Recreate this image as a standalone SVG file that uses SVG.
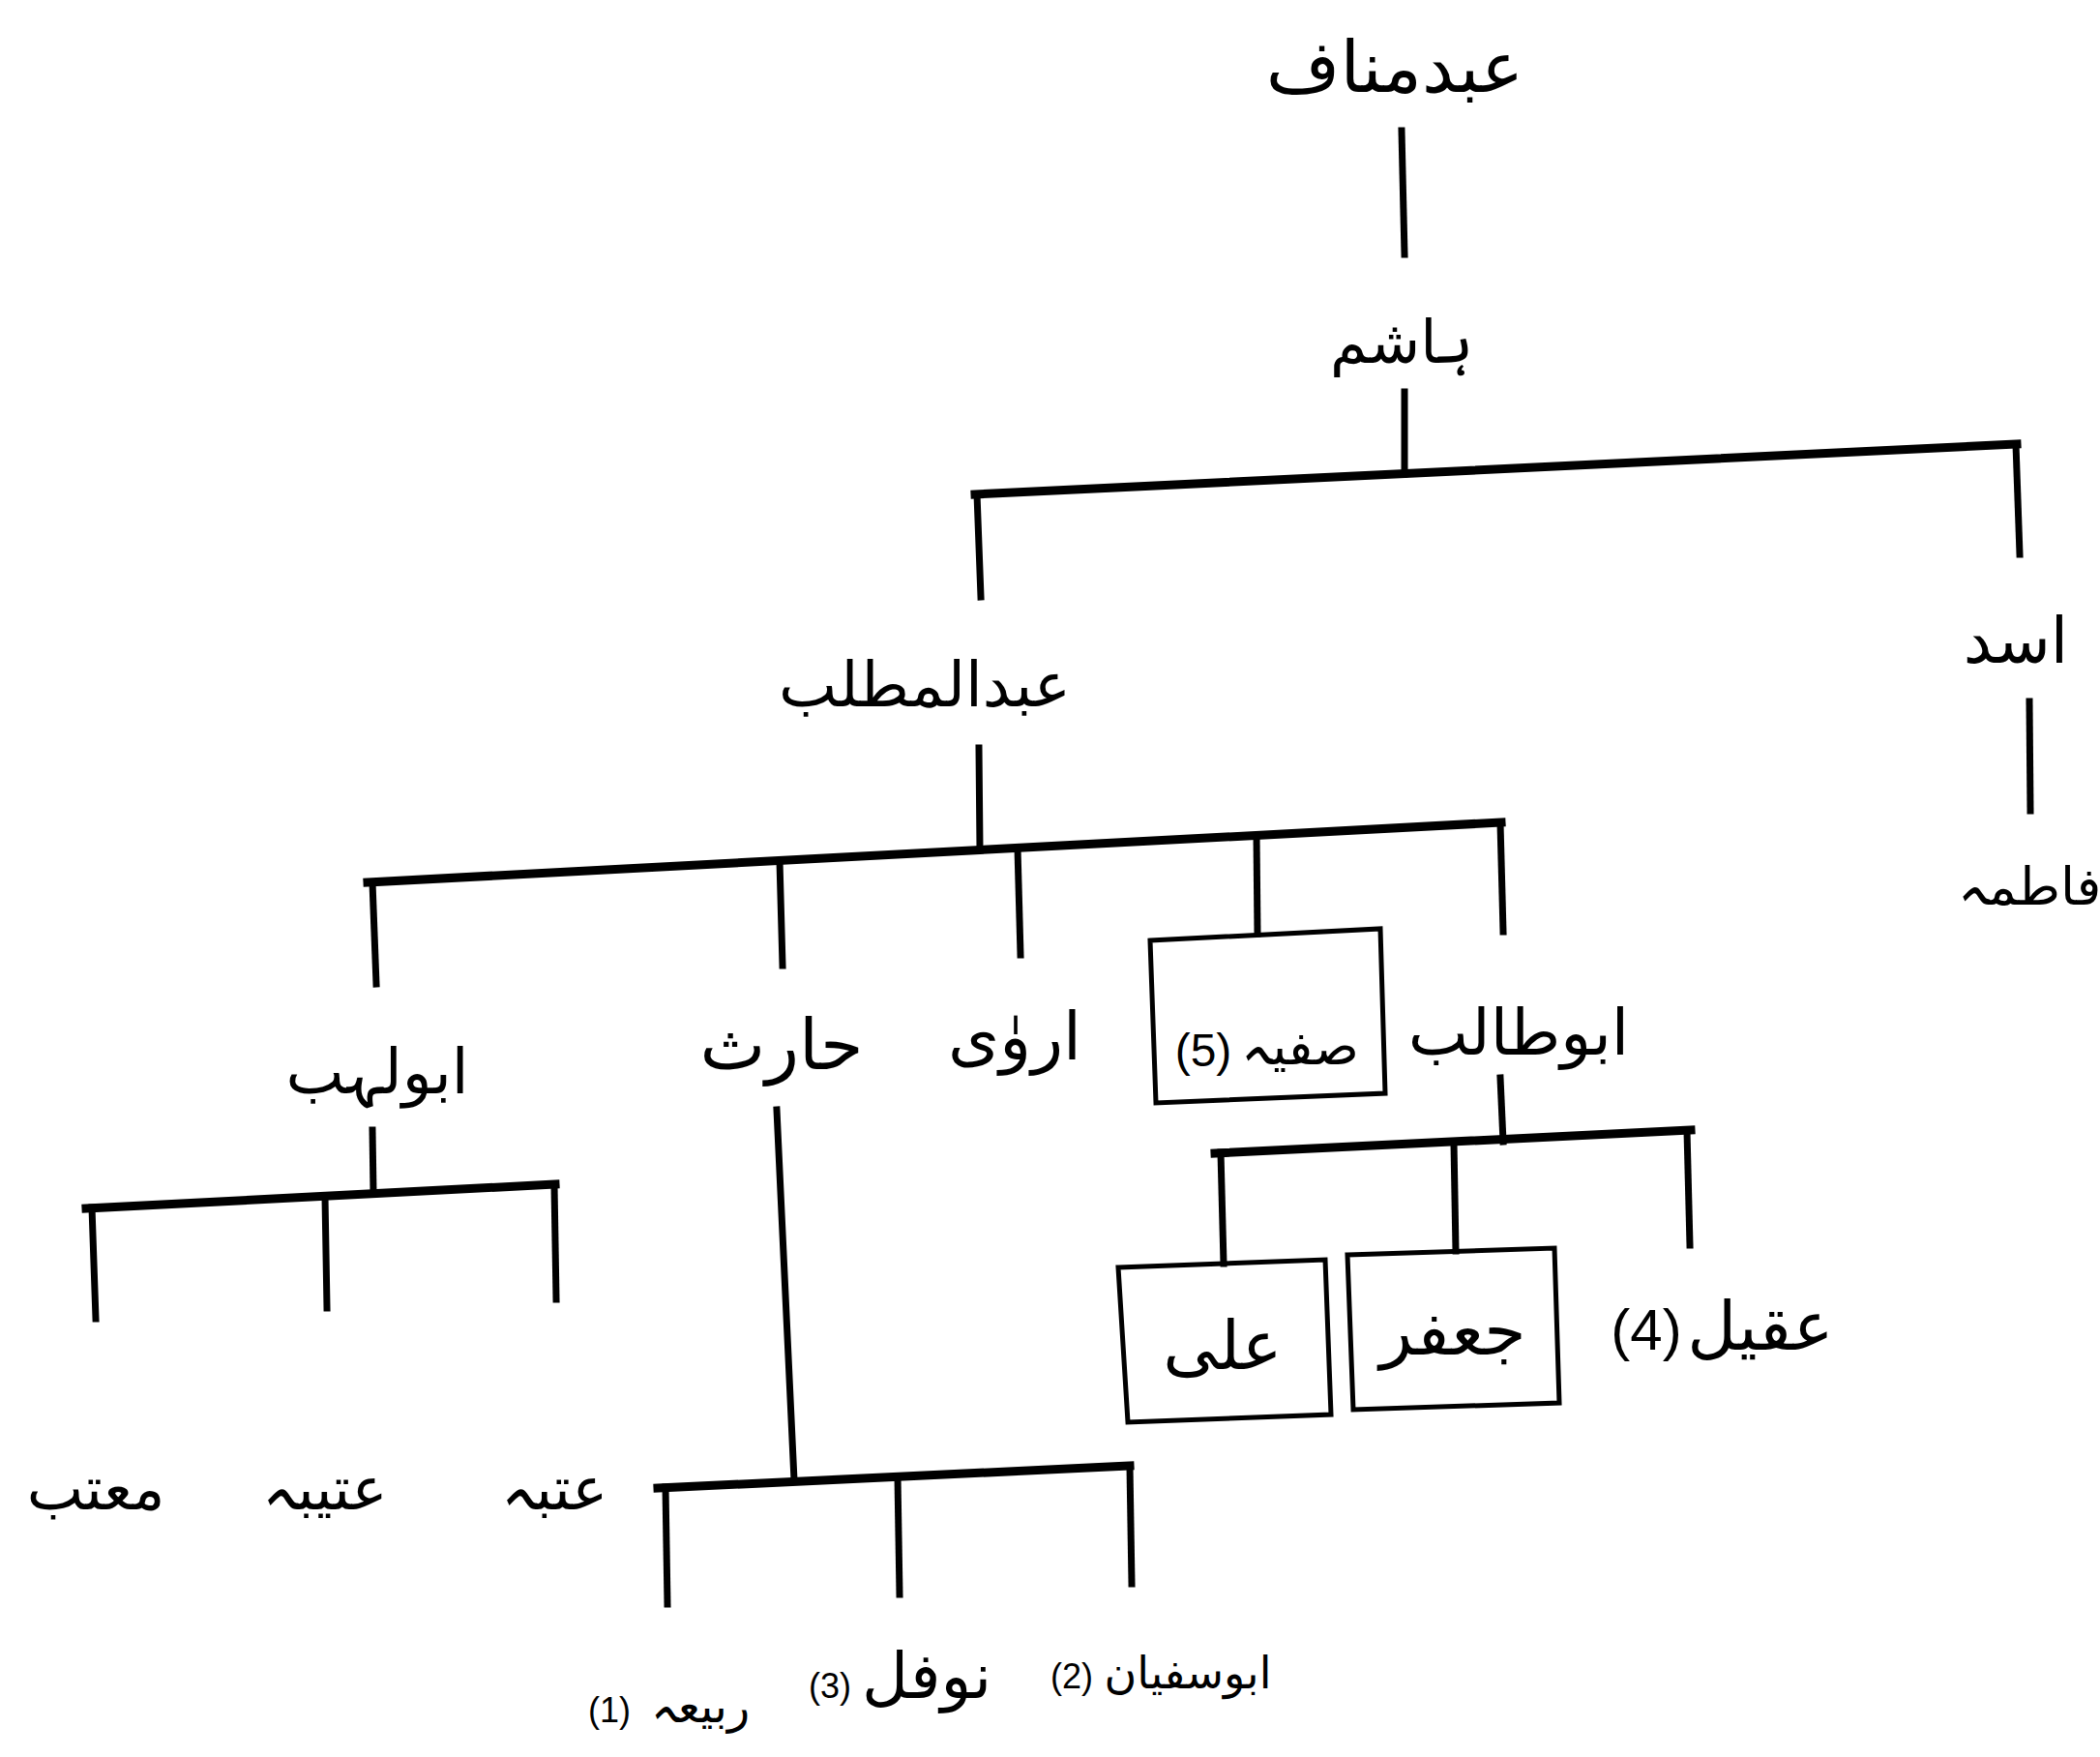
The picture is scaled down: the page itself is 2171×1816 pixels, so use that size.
<svg xmlns="http://www.w3.org/2000/svg" width="2171" height="1816" viewBox="0 0 2171 1816">
<style>
.t{font-family:"DejaVu Sans","Noto Sans",sans-serif;fill:#000;text-anchor:middle;direction:rtl}
.n{font-family:"Liberation Sans","DejaVu Sans",sans-serif;fill:#000;text-anchor:middle}
.c line{stroke:#000;stroke-width:7;fill:none;stroke-linecap:square}
.c .h{stroke-width:9}
.b{fill:none;stroke:#000;stroke-width:5;stroke-linejoin:miter}
</style>
<rect width="2171" height="1816" fill="#fff"/>
<g id="connectors" class="c">
<line x1="1449" y1="135" x2="1452" y2="263"/>
<line x1="1452" y1="405" x2="1452" y2="490"/>
<line class="h" x1="1008" y1="511" x2="2085" y2="459"/>
<line x1="1010" y1="511" x2="1014" y2="617"/>
<line x1="2084" y1="459" x2="2088" y2="573"/>
<line x1="2098" y1="725" x2="2099" y2="838"/>
<line x1="1012" y1="773" x2="1013" y2="877"/>
<line class="h" x1="380" y1="912" x2="1552" y2="850"/>
<line x1="385" y1="912" x2="389" y2="1017"/>
<line x1="806" y1="890" x2="809" y2="998"/>
<line x1="1052" y1="877" x2="1055" y2="987"/>
<line x1="1299" y1="864" x2="1300" y2="965"/>
<line x1="1551" y1="851" x2="1554" y2="963"/>
<line x1="385" y1="1168" x2="386" y2="1232"/>
<line class="h" x1="89" y1="1249" x2="574" y2="1224"/>
<line x1="95" y1="1248" x2="99" y2="1363"/>
<line x1="336" y1="1237" x2="338" y2="1352"/>
<line x1="573" y1="1225" x2="575" y2="1343"/>
<line x1="803" y1="1147" x2="821" y2="1530"/>
<line class="h" x1="680" y1="1538" x2="1168" y2="1515"/>
<line x1="688" y1="1537" x2="690" y2="1658"/>
<line x1="928" y1="1527" x2="930" y2="1648"/>
<line x1="1168" y1="1516" x2="1170" y2="1637"/>
<line x1="1551" y1="1114" x2="1554" y2="1180"/>
<line class="h" x1="1256" y1="1192" x2="1748" y2="1168"/>
<line x1="1262" y1="1191" x2="1265" y2="1306"/>
<line x1="1503" y1="1181" x2="1505" y2="1293"/>
<line x1="1744" y1="1169" x2="1747" y2="1287"/>
</g>
<g id="abd-manaf"><text class="t" x="1442" y="95" font-size="74">عبدمناف</text></g>
<g id="hashim"><text class="t" x="1449" y="375" font-size="62">ہاشم</text></g>
<g id="abd-al-muttalib"><text class="t" x="956" y="730" font-size="64">عبدالمطلب</text></g>
<g id="asad"><text class="t" x="2084" y="685" font-size="66">اسد</text></g>
<g id="fatima"><text class="t" x="2098" y="935" font-size="54">فاطمہ</text></g>
<g id="abu-lahab"><text class="t" x="390" y="1130" font-size="64">ابولہب</text></g>
<g id="harith"><text class="t" x="808" y="1105" font-size="72">حارث</text></g>
<g id="arwa"><text class="t" x="1049" y="1095" font-size="68">اروٰی</text></g>
<g id="safiya">
<polygon class="b" points="1189,972 1427,960 1432,1130 1195,1140"/>
<text class="t" x="1344" y="1100" font-size="54">صفیہ</text>
<text class="n" x="1244" y="1102" font-size="48">(5)</text>
</g>
<g id="abu-talib"><text class="t" x="1570" y="1090" font-size="66">ابوطالب</text></g>
<g id="utba"><text class="t" x="573" y="1560" font-size="62">عتبہ</text></g>
<g id="utaiba"><text class="t" x="336" y="1560" font-size="62">عتیبہ</text></g>
<g id="muattab"><text class="t" x="99" y="1560" font-size="62">معتب</text></g>
<g id="ali">
<polygon class="b" points="1156,1310 1370,1302 1376,1462 1166,1470"/>
<text class="t" x="1264" y="1415" font-size="70">علی</text>
</g>
<g id="jafar">
<polygon class="b" points="1393,1297 1607,1290 1612,1450 1399,1457"/>
<text class="t" x="1502" y="1400" font-size="70">جعفر</text>
</g>
<g id="aqil">
<text class="t" x="1820" y="1395" font-size="70">عقیل</text>
<text class="n" x="1702" y="1395" font-size="60">(4)</text>
</g>
<g id="abu-sufyan">
<text class="t" x="1228" y="1745" font-size="46">ابوسفیان</text>
<text class="n" x="1108" y="1745" font-size="36">(2)</text>
</g>
<g id="nawfal">
<text class="t" x="958" y="1755" font-size="66">نوفل</text>
<text class="n" x="858" y="1755" font-size="36">(3)</text>
</g>
<g id="rabia">
<text class="t" x="724" y="1780" font-size="48">ربیعہ</text>
<text class="n" x="630" y="1780" font-size="36">(1)</text>
</g>
</svg>
